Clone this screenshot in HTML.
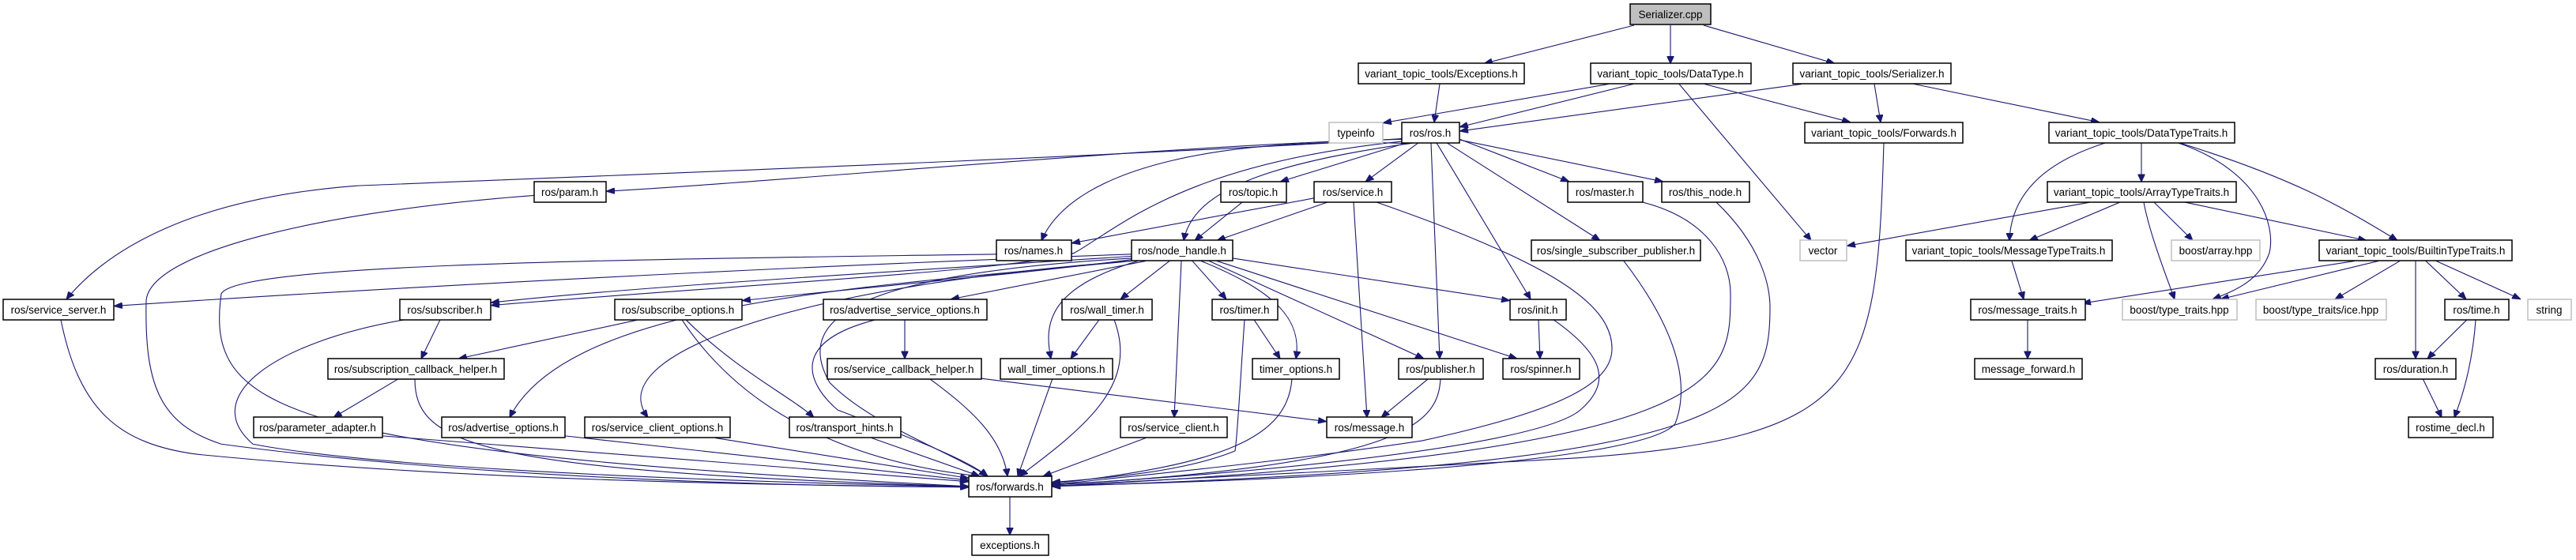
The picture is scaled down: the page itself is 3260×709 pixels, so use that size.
<!DOCTYPE html>
<html><head><meta charset="utf-8"><style>
html,body{margin:0;padding:0;background:#fff;overflow:hidden;}
svg{display:block;}
text{font-family:"Liberation Sans",sans-serif;font-size:13.5px;text-anchor:middle;fill:#000;}
.e path{fill:none;stroke:#191970;stroke-width:1.1;marker-end:url(#ah);vector-effect:non-scaling-stroke;}
.n rect{fill:#fff;stroke:#000;stroke-width:1.5;}
.g rect{fill:#fff;stroke:#bfbfbf;stroke-width:1.5;}
</style></head><body>
<svg width="3260" height="709" viewBox="0 0 3260 709" xmlns="http://www.w3.org/2000/svg">
<defs><marker id="ah" markerUnits="userSpaceOnUse" markerWidth="11" markerHeight="9" refX="11" refY="4.5" orient="auto"><path d="M0,0 L11,4.5 L0,9 z" fill="#191970" stroke="#191970"/></marker></defs>
<g class="e" transform="scale(1,0.865)">
<path d="M2068,37 L1878,93"/>
<path d="M2114,37 L2114,93"/>
<path d="M2156,37 L2322,93"/>
<path d="M1822,123 L1815,179"/>
<path d="M2036,123 L1750,180"/>
<path d="M2067,123 L1847,186"/>
<path d="M2157,123 L2342,179"/>
<path d="M2125,123 L2292,352"/>
<path d="M2280,123 L1847,192"/>
<path d="M2372,123 L2380,179"/>
<path d="M2422,123 L2657,179"/>
<path d="M2384,209 C2375,560 2360,640 2000,670 C1700,690 1400,705 1331,712"/>
<path d="M2665,209 C2580,240 2545,290 2543,352"/>
<path d="M2710,209 L2710,266"/>
<path d="M2756,209 C2860,250 2880,330 2872,370 C2860,410 2830,425 2800,438"/>
<path d="M2758,209 C2900,260 2960,300 3034,352"/>
<path d="M2645,296 L2337,360"/>
<path d="M2683,296 L2568,352"/>
<path d="M2713,296 C2720,340 2740,400 2752,438"/>
<path d="M2726,296 L2775,352"/>
<path d="M2765,296 L2995,352"/>
<path d="M2546,382 L2561,438"/>
<path d="M2566,468 L2566,525"/>
<path d="M2980,382 L2635,444"/>
<path d="M3010,382 L2810,438"/>
<path d="M3037,382 L2955,438"/>
<path d="M3057,382 L3057,525"/>
<path d="M3070,382 L3121,438"/>
<path d="M3083,382 L3190,438"/>
<path d="M3122,468 L3072,525"/>
<path d="M3133,468 C3130,520 3120,570 3106,611"/>
<path d="M3066,554 L3090,611"/>
<path d="M1774,204 C1500,210 1000,265 767,280"/>
<path d="M1774,203 C1400,230 700,260 450,272 C250,290 140,360 84,438"/>
<path d="M1780,210 C1560,200 1360,240 1318,352"/>
<path d="M1790,209 C1600,240 1510,280 1498,352"/>
<path d="M1780,209 L1620,266"/>
<path d="M1795,209 L1728,266"/>
<path d="M1811,209 L1822,525"/>
<path d="M1818,209 L1937,438"/>
<path d="M1831,209 L2025,352"/>
<path d="M1848,204 L1986,266"/>
<path d="M1848,205 L2105,266"/>
<path d="M1774,207 C1500,240 1420,330 1360,370 C1300,395 900,420 621,447"/>
<path d="M1572,296 L1512,352"/>
<path d="M1663,290 L1356,356"/>
<path d="M1680,296 L1540,352"/>
<path d="M1713,296 L1730,611"/>
<path d="M1742,296 C1950,380 2040,440 2040,510 C2040,560 1980,600 1800,645 C1600,680 1400,700 1331,710"/>
<path d="M1432,378 C1100,400 1000,460 1050,560 C1100,620 1200,660 1250,697"/>
<path d="M1432,372 C1000,390 500,420 144,448"/>
<path d="M1432,375 C1100,400 800,420 621,443"/>
<path d="M1432,380 C1300,400 1100,420 939,440"/>
<path d="M1450,382 L1203,438"/>
<path d="M1432,382 C1100,420 720,440 645,611"/>
<path d="M1432,382 C1000,420 760,520 820,611"/>
<path d="M1480,382 L1418,438"/>
<path d="M1440,382 C1330,420 1320,470 1330,525"/>
<path d="M1509,382 L1552,438"/>
<path d="M1520,382 C1600,420 1650,460 1640,525"/>
<path d="M1495,382 L1486,611"/>
<path d="M1530,382 L1802,525"/>
<path d="M1540,382 L1920,525"/>
<path d="M1560,378 L1911,440"/>
<path d="M557,468 L533,525"/>
<path d="M512,468 C350,500 250,580 320,650 C500,690 1000,708 1226,712"/>
<path d="M808,468 L580,525"/>
<path d="M868,468 C930,540 1000,580 1030,611"/>
<path d="M863,468 C950,620 1100,680 1240,697"/>
<path d="M1145,468 L1145,525"/>
<path d="M1108,468 C1000,500 1020,560 1060,600 C1150,640 1220,670 1250,697"/>
<path d="M1391,468 L1355,525"/>
<path d="M1410,468 C1440,560 1380,620 1290,697"/>
<path d="M1587,468 L1620,525"/>
<path d="M1575,468 C1570,550 1566,640 1563,660 C1500,690 1400,700 1331,706"/>
<path d="M505,554 L422,611"/>
<path d="M525,554 C525,650 600,690 1226,712"/>
<path d="M1176,554 C1230,600 1268,640 1275,697"/>
<path d="M1242,554 L1679,617"/>
<path d="M1332,554 L1288,697"/>
<path d="M1635,554 C1630,640 1550,680 1331,708"/>
<path d="M1808,554 L1748,611"/>
<path d="M1823,554 C1820,620 1780,680 1331,710"/>
<path d="M1947,468 L1949,525"/>
<path d="M1966,468 C2030,520 2040,560 2000,600 C1940,660 1500,700 1331,709"/>
<path d="M2055,382 C2120,480 2140,560 2120,620 C2080,680 1600,705 1331,711"/>
<path d="M2079,296 C2160,320 2190,380 2190,430 C2190,560 2190,660 1331,712"/>
<path d="M2172,296 C2230,360 2240,420 2240,450 C2240,600 2200,680 1331,712"/>
<path d="M77,468 C100,600 150,650 250,665 C600,705 1000,710 1226,713"/>
<path d="M676,286 C400,310 190,370 185,440 C183,560 200,620 280,650 C600,700 1000,712 1226,713"/>
<path d="M1261,372 C800,380 300,385 280,430 C260,600 350,660 1226,712"/>
<path d="M484,638 L1226,705"/>
<path d="M715,638 L1226,703"/>
<path d="M905,641 L1226,700"/>
<path d="M1103,641 L1240,697"/>
<path d="M1450,641 L1320,697"/>
<path d="M1278,727 L1278,783"/>
</g>
<g class="n">
<rect x="2063" y="5" width="102" height="26" style="fill:#bfbfbf"/><text x="2114" y="23">Serializer.cpp</text>
<rect x="1719" y="80" width="210" height="26"/><text x="1824" y="98">variant_topic_tools/Exceptions.h</text>
<rect x="2013" y="80" width="203" height="26"/><text x="2114" y="98">variant_topic_tools/DataType.h</text>
<rect x="2269" y="80" width="200" height="26"/><text x="2369" y="98">variant_topic_tools/Serializer.h</text>
<rect x="1774" y="155" width="73" height="26"/><text x="1810" y="173">ros/ros.h</text>
<rect x="2284" y="155" width="200" height="26"/><text x="2384" y="173">variant_topic_tools/Forwards.h</text>
<rect x="2593" y="155" width="235" height="26"/><text x="2710" y="173">variant_topic_tools/DataTypeTraits.h</text>
<rect x="676" y="230" width="91" height="26"/><text x="721" y="248">ros/param.h</text>
<rect x="1545" y="230" width="83" height="26"/><text x="1586" y="248">ros/topic.h</text>
<rect x="1663" y="230" width="98" height="26"/><text x="1712" y="248">ros/service.h</text>
<rect x="1984" y="230" width="95" height="26"/><text x="2031" y="248">ros/master.h</text>
<rect x="2103" y="230" width="111" height="26"/><text x="2158" y="248">ros/this_node.h</text>
<rect x="2591" y="230" width="239" height="26"/><text x="2710" y="248">variant_topic_tools/ArrayTypeTraits.h</text>
<rect x="1261" y="304" width="95" height="26"/><text x="1308" y="322">ros/names.h</text>
<rect x="1432" y="304" width="128" height="26"/><text x="1496" y="322">ros/node_handle.h</text>
<rect x="1938" y="304" width="214" height="26"/><text x="2045" y="322">ros/single_subscriber_publisher.h</text>
<rect x="2412" y="304" width="261" height="26"/><text x="2542" y="322">variant_topic_tools/MessageTypeTraits.h</text>
<rect x="2935" y="304" width="244" height="26"/><text x="3057" y="322">variant_topic_tools/BuiltinTypeTraits.h</text>
<rect x="4" y="379" width="140" height="26"/><text x="74" y="397">ros/service_server.h</text>
<rect x="506" y="379" width="115" height="26"/><text x="563" y="397">ros/subscriber.h</text>
<rect x="778" y="379" width="161" height="26"/><text x="858" y="397">ros/subscribe_options.h</text>
<rect x="1042" y="379" width="207" height="26"/><text x="1145" y="397">ros/advertise_service_options.h</text>
<rect x="1344" y="379" width="114" height="26"/><text x="1401" y="397">ros/wall_timer.h</text>
<rect x="1534" y="379" width="83" height="26"/><text x="1575" y="397">ros/timer.h</text>
<rect x="1911" y="379" width="71" height="26"/><text x="1946" y="397">ros/init.h</text>
<rect x="2494" y="379" width="145" height="26"/><text x="2566" y="397">ros/message_traits.h</text>
<rect x="3094" y="379" width="81" height="26"/><text x="3134" y="397">ros/time.h</text>
<rect x="415" y="454" width="223" height="26"/><text x="526" y="472">ros/subscription_callback_helper.h</text>
<rect x="1047" y="454" width="195" height="26"/><text x="1144" y="472">ros/service_callback_helper.h</text>
<rect x="1266" y="454" width="142" height="26"/><text x="1337" y="472">wall_timer_options.h</text>
<rect x="1585" y="454" width="110" height="26"/><text x="1640" y="472">timer_options.h</text>
<rect x="1770" y="454" width="107" height="26"/><text x="1823" y="472">ros/publisher.h</text>
<rect x="1902" y="454" width="97" height="26"/><text x="1950" y="472">ros/spinner.h</text>
<rect x="2499" y="454" width="136" height="26"/><text x="2567" y="472">message_forward.h</text>
<rect x="3006" y="454" width="102" height="26"/><text x="3057" y="472">ros/duration.h</text>
<rect x="321" y="528" width="163" height="26"/><text x="402" y="546">ros/parameter_adapter.h</text>
<rect x="559" y="528" width="156" height="26"/><text x="637" y="546">ros/advertise_options.h</text>
<rect x="740" y="528" width="184" height="26"/><text x="832" y="546">ros/service_client_options.h</text>
<rect x="999" y="528" width="141" height="26"/><text x="1069" y="546">ros/transport_hints.h</text>
<rect x="1418" y="528" width="135" height="26"/><text x="1485" y="546">ros/service_client.h</text>
<rect x="1679" y="528" width="108" height="26"/><text x="1733" y="546">ros/message.h</text>
<rect x="3048" y="528" width="107" height="26"/><text x="3101" y="546">rostime_decl.h</text>
<rect x="1226" y="603" width="105" height="26"/><text x="1278" y="621">ros/forwards.h</text>
<rect x="1230" y="677" width="97" height="26"/><text x="1278" y="695">exceptions.h</text>
</g>
<g class="g">
<rect x="1682" y="155" width="68" height="26"/><text x="1716" y="173">typeinfo</text>
<rect x="2278" y="304" width="59" height="26"/><text x="2307" y="322">vector</text>
<rect x="2748" y="304" width="112" height="26"/><text x="2804" y="322">boost/array.hpp</text>
<rect x="2686" y="379" width="145" height="26"/><text x="2758" y="397">boost/type_traits.hpp</text>
<rect x="2855" y="379" width="165" height="26"/><text x="2937" y="397">boost/type_traits/ice.hpp</text>
<rect x="3199" y="379" width="55" height="26"/><text x="3226" y="397">string</text>
</g>
</svg>
</body></html>
